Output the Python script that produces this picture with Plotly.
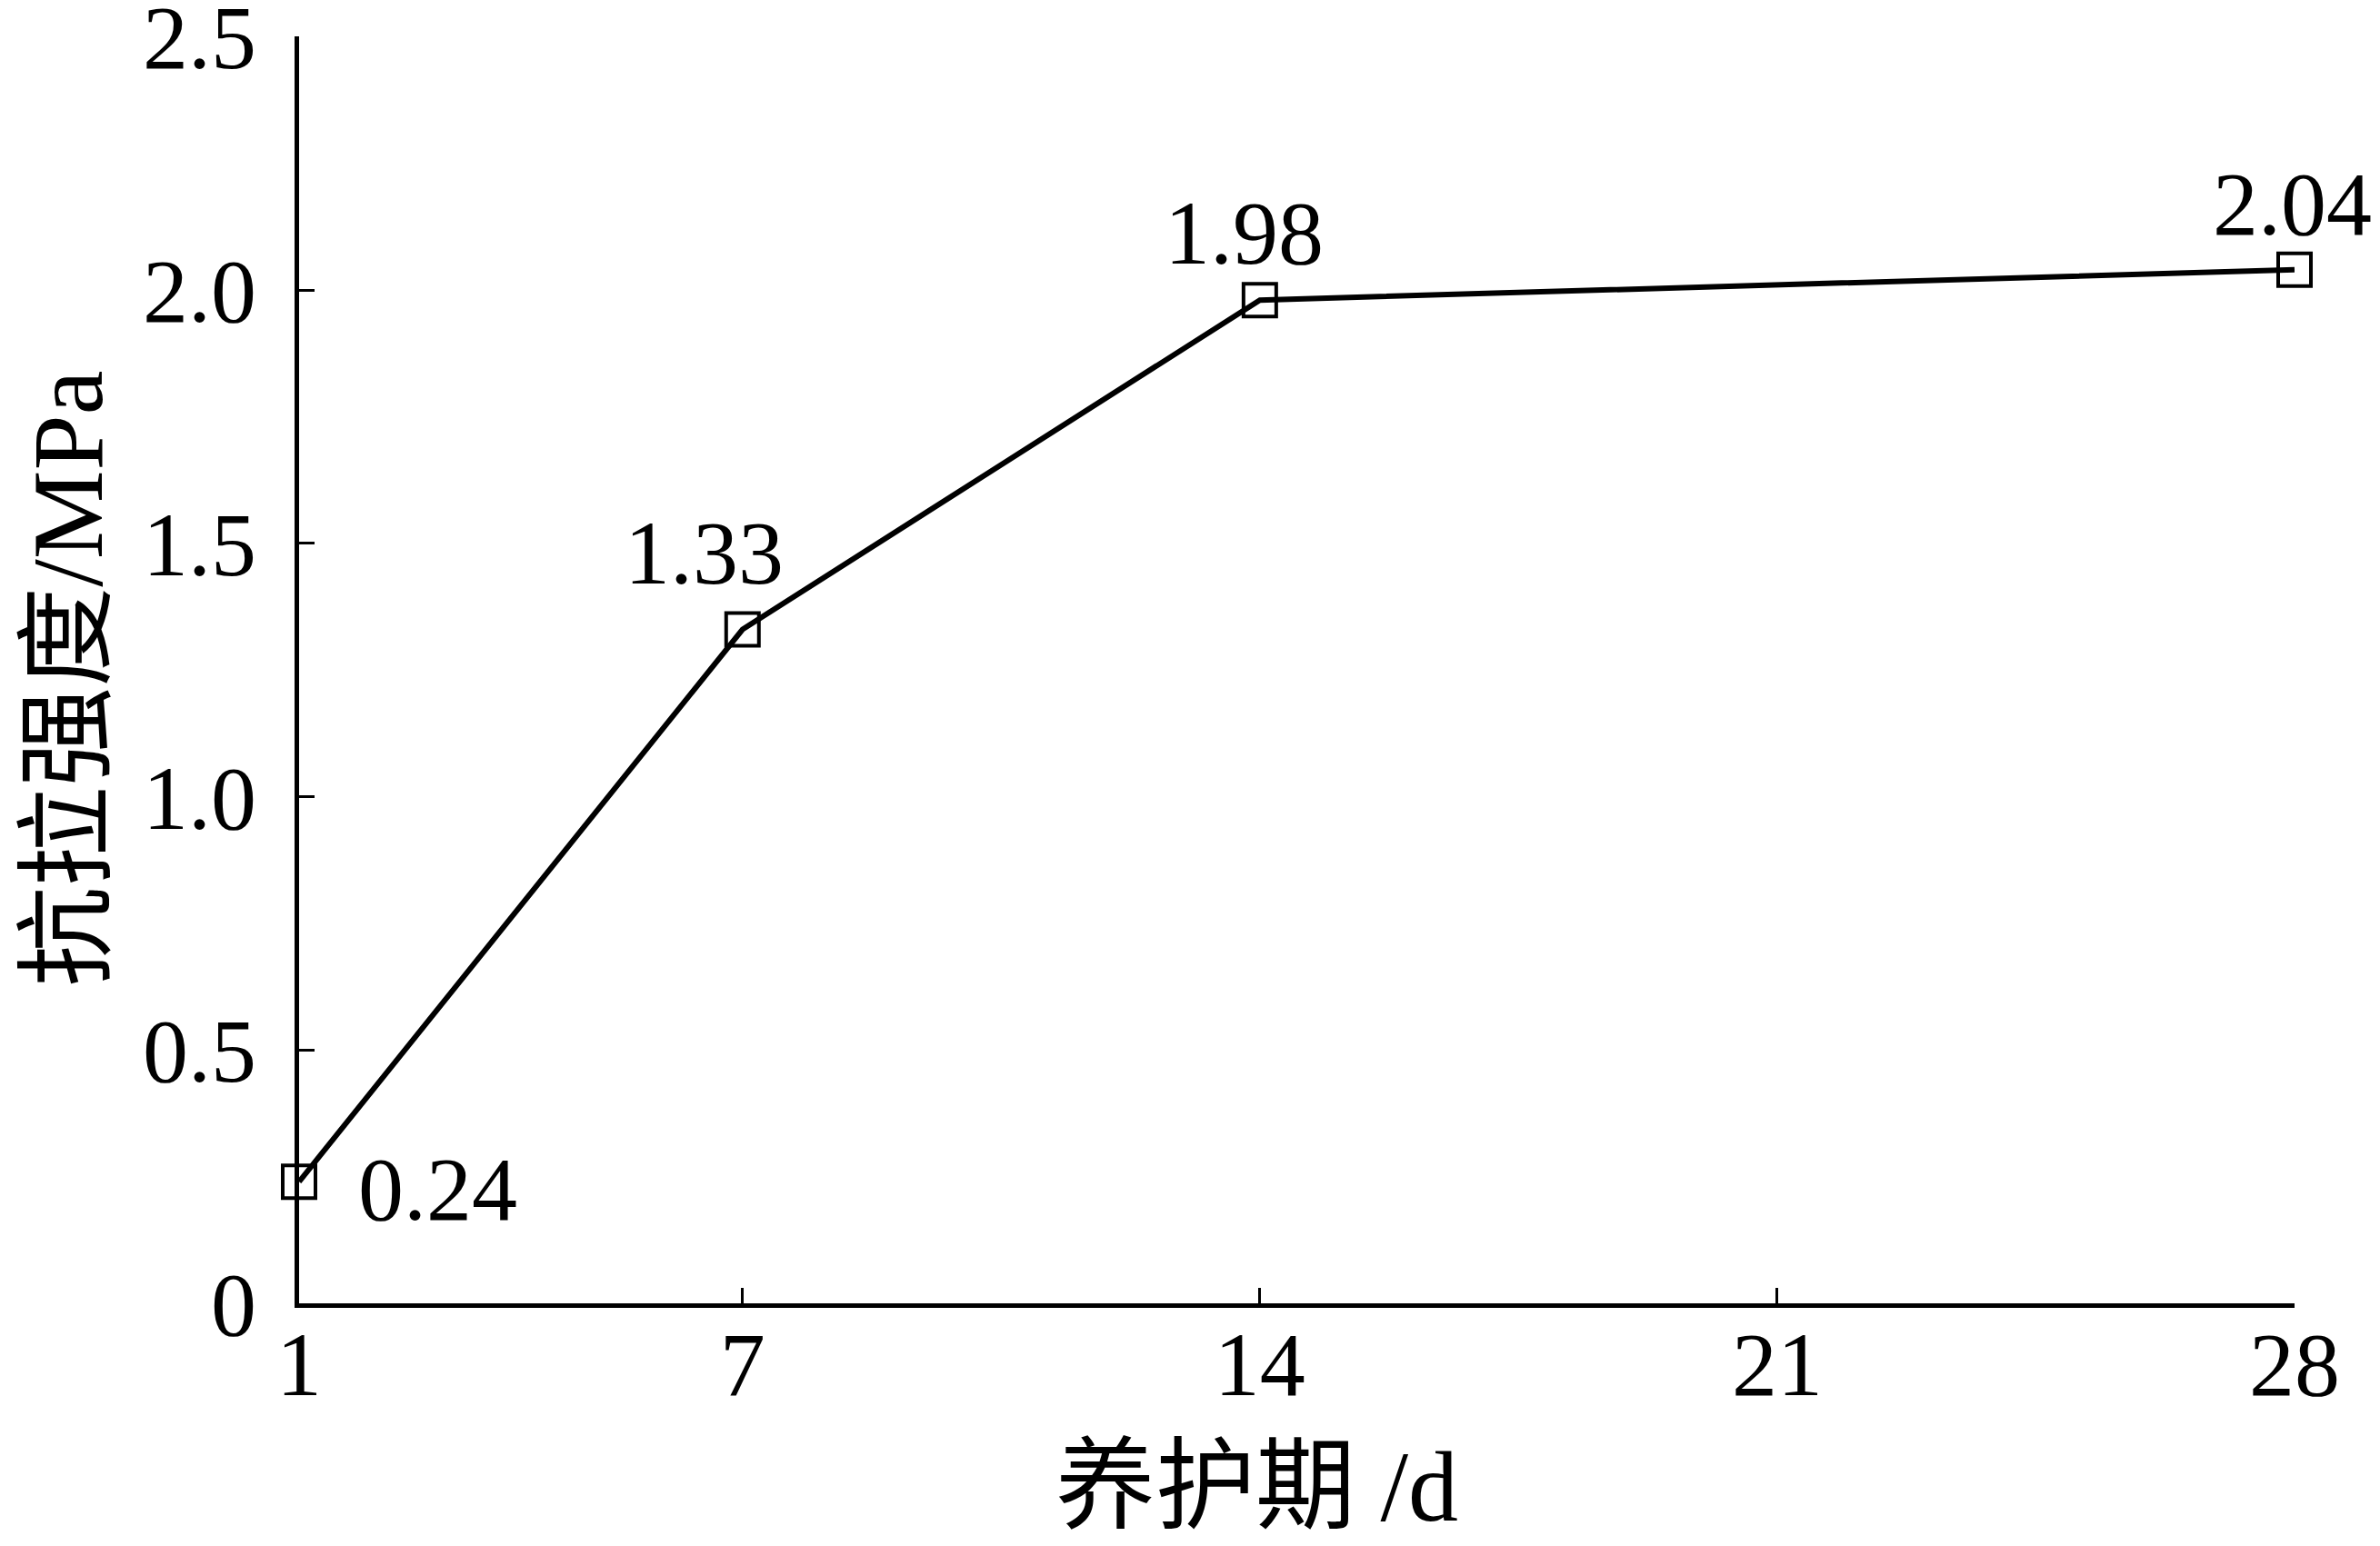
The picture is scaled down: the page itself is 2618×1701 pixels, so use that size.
import plotly.graph_objects as go

days = [1, 7, 14, 28]
strength = [0.24, 1.33, 1.98, 2.04]
labels = ["0.24", "1.33", "1.98", "2.04"]
x_ticks = [1, 7, 14, 21, 28]
y_ticks = [0, 0.5, 1.0, 1.5, 2.0, 2.5]
y_tick_text = ["0", "0.5", "1.0", "1.5", "2.0", "2.5"]

label_dx = [152, -42, -17, -3]
label_dy = [-8, 84, 74, 72]

serif = "Liberation Serif, Times New Roman, Noto Sans CJK SC, serif"

fig = go.Figure()
fig.add_trace(go.Scatter(
    x=days, y=strength, mode="lines+markers",
    line=dict(color="black", width=6),
    marker=dict(symbol="square-open", size=36, color="black", line=dict(width=4, color="black")),
    showlegend=False, cliponaxis=False,
))

for xv, yv, t, dx, dy in zip(days, strength, labels, label_dx, label_dy):
    fig.add_annotation(x=xv, y=yv, text=t, showarrow=False, xshift=dx, yshift=dy,
                       font=dict(family=serif, size=100, color="black"))

# axis titles
fig.add_annotation(xref="paper", yref="paper", x=0.48, y=-0.145, text="养护期 /d",
                   showarrow=False, xanchor="center", yanchor="middle",
                   font=dict(family=serif, size=110, color="black"))
fig.add_annotation(xref="paper", yref="paper", x=-0.1157, y=0.493, text="抗拉强度/MPa",
                   showarrow=False, xanchor="center", yanchor="middle", textangle=-90,
                   font=dict(family=serif, size=110, color="black"))

fig.update_layout(
    width=2618, height=1701,
    margin=dict(l=321, r=102, t=32, b=275),
    paper_bgcolor="white", plot_bgcolor="white",
    font=dict(family=serif, size=100, color="black"),
)
fig.update_xaxes(
    range=[1, 28], tickvals=x_ticks, ticktext=[str(v) for v in x_ticks],
    showline=True, linecolor="black", linewidth=5, mirror=False,
    ticks="inside", ticklen=17, tickwidth=3, tickcolor="black",
    showgrid=False, zeroline=False, automargin=False,
    tickfont=dict(family=serif, size=100),
    ticklabelstandoff=-24, ticklabeloverflow="allow",
)
fig.update_yaxes(
    range=[0, 2.5005], tickvals=y_ticks, ticktext=y_tick_text,
    showline=True, linecolor="black", linewidth=5, mirror=False,
    ticks="inside", ticklen=17, tickwidth=3, tickcolor="black",
    showgrid=False, zeroline=False, automargin=False,
    tickfont=dict(family=serif, size=100),
    ticklabelstandoff=22, ticklabeloverflow="allow",
)

fig.write_html("out.html")
